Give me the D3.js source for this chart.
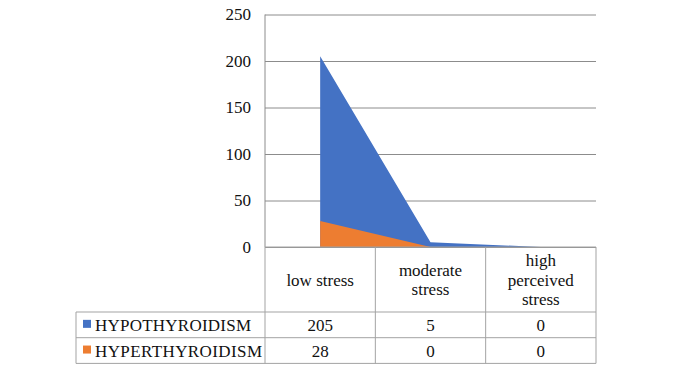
<!DOCTYPE html>
<html>
<head>
	<meta charset='utf-8'>
	<style>
		body { margin: 0; background: #fff; }
		svg text { font-family: 'Liberation Serif', 'Times New Roman', 'DejaVu Serif', serif; font-size: 17px; fill: #111; }
		.grid line { stroke: #8c8c8c; stroke-width: 1px; }
		.cell { stroke: #a3a3a3; stroke-width: 1px; fill: none; }
	</style>
</head>
<body>
<script src='https://cdn.jsdelivr.net/npm/d3@7'></script>
<script>
	'use strict';

	const categories = [['low stress'], ['moderate', 'stress'], ['high', 'perceived', 'stress']];
	const seriesNames = ['HYPOTHYROIDISM', 'HYPERTHYROIDISM'];
	const hypo = [205, 5, 0];
	const hyper = [28, 0, 0];
	const colors = ['#4472c4', '#ed7d31'];
	const yTicks = [0, 50, 100, 150, 200, 250];

	const W = 678, H = 375;
	const plot = {left: 265, right: 596, top: 14.5, bottom: 247};
	const tableLeft = 76;
	const headerBottom = 312, rowH = 25.7;
	const serif = "'Liberation Serif', 'Times New Roman', 'DejaVu Serif', serif";

	const svg = d3.select('body').append('svg')
		.attr('width', W)
		.attr('height', H)
		.attr('font-family', serif);

	const x = d3.scaleBand()
		.domain(d3.range(categories.length))
		.range([plot.left, plot.right])
		.padding(0);
	const y = d3.scaleLinear().domain([0, 250]).range([plot.bottom, plot.top]);

	// сетка и подписи оси Y
	svg.append('g')
		.attr('class', 'grid')
		.attr('transform', 'translate(' + plot.left + ',0)')
		.call(d3.axisLeft(y).tickValues(yTicks).tickSize(-(plot.right - plot.left)).tickPadding(14))
		.attr('font-family', serif)
		.attr('font-size', 17)
		.call(g => g.select('.domain').remove())
		.call(g => g.selectAll('text').attr('fill', '#111'));

	svg.append('line')
		.attr('x1', plot.left).attr('x2', plot.left)
		.attr('y1', plot.top).attr('y2', plot.bottom)
		.attr('stroke', '#8c8c8c');

	// области
	const area = d3.area()
		.x((d, i) => x(i) + x.bandwidth() / 2)
		.y0(y(0))
		.y1(d => y(d));

	[hypo, hyper].forEach(function(values, i) {
		svg.append('path')
			.datum(values)
			.attr('fill', colors[i])
			.attr('d', area);
	});

	// таблица данных
	const tableBottom = headerBottom + rowH * seriesNames.length;
	const t = svg.append('g');

	t.append('line').attr('class', 'cell')
		.attr('x1', plot.left).attr('x2', plot.right)
		.attr('y1', plot.bottom).attr('y2', plot.bottom);
	d3.range(seriesNames.length + 1).forEach(function(r) {
		t.append('line').attr('class', 'cell')
			.attr('x1', tableLeft).attr('x2', plot.right)
			.attr('y1', headerBottom + r * rowH).attr('y2', headerBottom + r * rowH);
	});
	t.append('line').attr('class', 'cell')
		.attr('x1', tableLeft).attr('x2', tableLeft)
		.attr('y1', headerBottom).attr('y2', tableBottom);
	d3.range(categories.length + 1).forEach(function(c) {
		const xx = c < categories.length ? x(c) : plot.right;
		t.append('line').attr('class', 'cell')
			.attr('x1', xx).attr('x2', xx)
			.attr('y1', plot.bottom).attr('y2', tableBottom);
	});

	categories.forEach(function(lines, c) {
		const cx = x(c) + x.bandwidth() / 2;
		const midY = (plot.bottom + headerBottom) / 2;
		const lh = 19.5;
		const txt = t.append('text')
			.attr('text-anchor', 'middle')
			.attr('x', cx)
			.attr('y', midY - (lines.length - 1) * lh / 2 + 6);
		lines.forEach(function(l, k) {
			txt.append('tspan')
				.attr('x', cx)
				.attr('dy', k === 0 ? 0 : lh)
				.text(l);
		});
	});

	[hypo, hyper].forEach(function(values, r) {
		const rowMid = headerBottom + rowH * r + rowH / 2;
		t.append('rect')
			.attr('x', 83).attr('y', rowMid - 5)
			.attr('width', 8).attr('height', 8)
			.attr('fill', colors[r]);
		t.append('text')
			.attr('x', 95)
			.attr('y', rowMid + 6)
			.attr('textLength', r === 0 ? 156 : 167)
			.attr('lengthAdjust', 'spacing')
			.text(seriesNames[r]);
		values.forEach(function(v, c) {
			t.append('text')
				.attr('text-anchor', 'middle')
				.attr('x', x(c) + x.bandwidth() / 2)
				.attr('y', rowMid + 6)
				.text(v);
		});
	});
</script>
</body>
</html>
